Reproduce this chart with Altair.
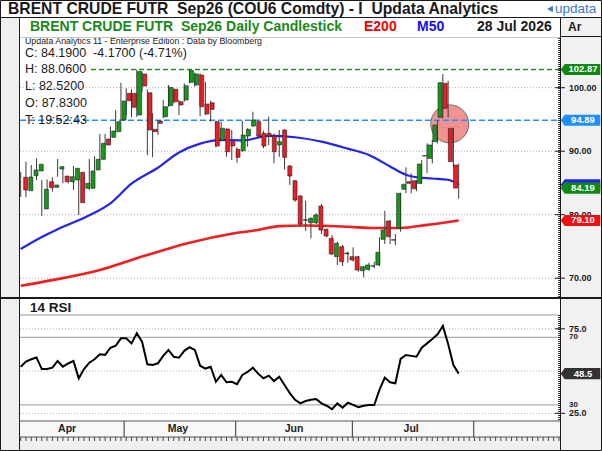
import altair as alt
import pandas as pd

# ---------------- data ----------------
day_index = list(range(84))
opens = [85.89, 83.78, 86.14, 86.88, 80.90, 85.20, 84.31, 87.20, 86.09, 85.20,
         85.46, 86.68, 84.16, 84.16, 87.04, 88.72, 91.92, 92.19, 93.07, 94.91,
         99.12, 99.12, 95.70, 102.16, 99.21, 93.45, 94.76, 95.43, 97.17, 99.75,
         97.79, 98.06, 100.85, 100.43, 102.00, 97.43, 97.64, 94.65, 91.76, 93.50,
         91.50, 90.30, 90.08, 92.39, 93.97, 94.65, 92.82, 92.82, 92.39, 90.98,
         93.34, 87.67, 85.35, 82.95, 79.20, 78.74, 78.74, 81.37, 77.70, 76.28,
         73.39, 74.96, 73.85, 73.39, 73.39, 71.18, 71.40, 71.95, 72.08, 76.12,
         79.01, 76.05, 77.86, 84.00, 85.20, 85.35, 84.94, 89.25, 88.88, 91.50,
         95.34, 100.69, 93.61, 87.83]
highs = [86.72, 88.35, 87.83, 88.88, 85.46, 85.57, 85.89, 88.77, 87.67, 86.09,
         87.67, 86.72, 86.09, 88.77, 89.24, 92.71, 92.71, 93.86, 96.49, 100.79,
         99.90, 99.75, 102.87, 102.52, 99.75, 95.97, 94.90, 98.06, 100.43, 99.90,
         98.06, 100.69, 102.87, 102.36, 102.27, 100.94, 97.95, 94.80, 94.65, 93.60,
         93.34, 90.61, 94.80, 93.61, 96.22, 94.80, 93.23, 95.43, 92.82, 93.34,
         93.45, 87.83, 85.46, 83.05, 82.20, 79.59, 80.22, 81.68, 77.80, 76.80,
         75.75, 75.23, 74.17, 74.87, 73.50, 71.92, 72.44, 72.60, 76.44, 80.63,
         79.16, 76.96, 83.47, 87.46, 86.52, 85.46, 88.61, 91.24, 91.76, 94.91,
         102.16, 101.10, 93.70, 88.06]
lows = [82.79, 82.74, 84.16, 85.46, 79.80, 83.62, 83.62, 85.98, 84.94, 84.94,
        83.89, 79.95, 83.78, 83.89, 86.25, 88.61, 90.82, 91.76, 92.91, 94.76,
        95.70, 95.34, 95.39, 99.37, 89.40, 89.04, 92.55, 95.20, 97.00, 97.54,
        95.70, 97.79, 100.69, 100.16, 95.54, 95.70, 94.65, 90.61, 91.50, 89.13,
        88.61, 88.19, 89.92, 90.71, 93.86, 92.28, 90.46, 90.98, 88.09, 89.13,
        87.12, 84.68, 82.05, 78.22, 77.48, 76.28, 78.54, 76.96, 76.44, 73.65,
        72.08, 71.92, 72.44, 72.60, 71.02, 70.14, 71.18, 71.56, 71.92, 75.39,
        75.39, 75.24, 77.32, 83.37, 83.37, 83.73, 84.83, 86.52, 88.09, 91.24,
        95.18, 95.34, 87.56, 82.52]
closes = [83.89, 85.94, 87.04, 87.94, 84.00, 84.25, 84.68, 87.56, 85.20, 85.98,
          87.31, 81.89, 84.94, 86.88, 88.72, 91.24, 90.98, 93.18, 94.65, 97.90,
          97.95, 96.91, 102.55, 100.27, 93.34, 93.07, 94.39, 97.01, 100.06, 97.79,
          97.28, 100.31, 102.70, 102.16, 97.01, 95.86, 96.60, 90.82, 93.61, 89.92,
          90.82, 89.04, 92.55, 93.45, 94.91, 92.39, 90.82, 92.39, 89.92, 91.50,
          89.04, 86.09, 82.31, 78.54, 79.14, 79.43, 79.95, 77.59, 76.65, 73.81,
          75.50, 72.60, 73.95, 72.87, 71.29, 71.81, 72.08, 71.90, 74.08, 77.59,
          76.54, 76.00, 83.37, 84.79, 84.94, 84.09, 87.98, 89.30, 90.98, 94.13,
          100.79, 96.75, 88.36, 84.19]
rsi = [52.6, 55.6, 57.0, 58.0, 51.2, 51.2, 52.0, 56.0, 52.6, 54.5,
       56.0, 45.7, 51.2, 55.0, 57.0, 59.9, 59.6, 63.8, 65.0, 69.4,
       69.4, 66.4, 72.4, 67.4, 54.0, 53.6, 54.6, 59.0, 62.5, 58.5,
       57.9, 62.0, 64.1, 62.5, 53.2, 51.5, 52.6, 43.7, 47.7, 43.4,
       43.7, 42.2, 47.7, 49.5, 52.0, 48.5, 45.7, 47.3, 44.1, 46.7,
       41.8, 37.0, 33.0, 30.9, 32.3, 33.0, 33.5, 30.9, 29.5, 27.4,
       30.9, 28.3, 31.3, 30.0, 28.6, 29.5, 29.9, 29.9, 39.0, 46.1,
       43.4, 42.8, 57.2, 59.5, 59.0, 58.5, 63.8, 66.4, 69.0, 71.8,
       76.7, 66.0, 53.6, 48.5]

m50_k = [0, 4, 7, 13, 17, 21, 26, 30, 34, 38, 42, 47, 52, 57, 62, 66, 70, 73, 75, 78, 81, 83]
m50_v = [74.6, 76.5, 77.7, 79.9, 81.8, 84.9, 87.4, 89.8, 91.2, 91.8, 91.7, 92.4, 92.2,
         91.5, 90.4, 89.4, 87.6, 86.3, 85.9, 85.7, 85.5, 84.7]
e200_k = [0, 6, 15, 23, 32, 40, 45, 49, 54, 62, 67, 72, 77, 83]
e200_v = [68.8, 69.7, 71.3, 73.4, 75.6, 77.0, 77.6, 78.2, 78.3, 78.1, 77.9, 77.9, 78.4, 79.1]

high_level = 102.87
last_level = 94.89
circle_k = [81.3]
circle_v = [94.3]

price_ticks = [100, 90, 80, 70]
price_tick_labels = ["100.00", "90.00", "80.00", "70.00"]
rsi_solid = [83.2, 70, 30]
rsi_dotted = [75, 50, 25]
rsi_major_values = [75, 25]
rsi_major_labels = ["75.0", "25.0"]
rsi_minor_values = [70, 30]
rsi_minor_labels = ["70", "30"]
month_names = ["Apr", "May", "Jun", "Jul"]
month_centers = [8.8, 29.8, 51.8, 74.0]
month_bounds = [19.6, 40.75, 62.85, 85.85]
tick_days = list(range(0, 103))

# ---------------- styling ----------------
FONT = "Liberation Sans"
DARK = "#1a1a1a"
GREEN = "#139a1b"
RED = "#ee1c24"
BLUE_MA = "#2424e8"
RED_MA = "#f01e1e"
TAG_GREEN = "#0e8a14"
TAG_BLUE = "#1e8fff"
TAG_RED = "#f01010"

XS = alt.Scale(domain=[-0.13, 102.2], range=[20, 560], nice=False, zero=False)
PS = alt.Scale(domain=[67.04, 107.83], range=[297, 38], nice=False, zero=False)
RS = alt.Scale(domain=[20.47, 93.25], range=[421, 298], nice=False, zero=False)

one = pd.DataFrame({"d": [0]})


def rect(x, x2, y, y2, fill, stroke=None, sw=1):
    kw = {"fill": fill}
    if stroke is not None:
        kw.update(stroke=stroke, strokeWidth=sw)
    else:
        kw.update(strokeWidth=0)
    return alt.Chart(one).mark_rect(**kw).encode(
        x=alt.value(x), x2=alt.value(x2), y=alt.value(y), y2=alt.value(y2))


def hrule(x, x2, y, color, sw=1, dash=None):
    kw = dict(color=color, strokeWidth=sw)
    if dash:
        kw["strokeDash"] = dash
    return alt.Chart(one).mark_rule(**kw).encode(
        x=alt.value(x), x2=alt.value(x2), y=alt.value(y))


def vrule(x, y, y2, color, sw=1, dash=None):
    kw = dict(color=color, strokeWidth=sw)
    if dash:
        kw["strokeDash"] = dash
    return alt.Chart(one).mark_rule(**kw).encode(
        x=alt.value(x), y=alt.value(y), y2=alt.value(y2))


def levels(values, scale, x, x2, color, sw=1, dash=None):
    kw = dict(color=color, strokeWidth=sw)
    if dash:
        kw["strokeDash"] = dash
    d = pd.DataFrame({"v": values})
    return alt.Chart(d).mark_rule(**kw).encode(
        y=alt.Y("v:Q", scale=scale, axis=None), x=alt.value(x), x2=alt.value(x2))


def label(s, x, y, size, color=DARK, weight="normal", align="left"):
    return alt.Chart(pd.DataFrame({"t": [s]})).mark_text(
        align=align, baseline="middle", fontSize=size, fontWeight=weight,
        color=color, font=FONT).encode(x=alt.value(x), y=alt.value(y), text="t:N")


def axis_labels(values, texts, scale, x, size=9, dy=0):
    d = pd.DataFrame({"v": values, "t": texts})
    return alt.Chart(d).mark_text(
        align="left", baseline="middle", fontSize=size, fontWeight="bold",
        color=DARK, font=FONT, dy=dy).encode(
        x=alt.value(x), y=alt.Y("v:Q", scale=scale, axis=None), text="t:N")


TAG = "M-1,0L-0.8,-0.28L1,-0.28L1,0.28L-0.8,0.28Z"


def tag(value, text, color, scale, with_text=True):
    d = pd.DataFrame({"v": [value], "t": [text]})
    y = alt.Y("v:Q", scale=scale, axis=None)
    out = [alt.Chart(d).mark_point(shape=TAG, size=1560, filled=True, color=color,
                                   opacity=1, strokeWidth=0).encode(x=alt.value(580.5), y=y)]
    if with_text:
        out.append(alt.Chart(d).mark_text(
            align="center", baseline="middle", fontSize=9.5, fontWeight="bold",
            color="white", font=FONT).encode(x=alt.value(583), y=y, text="t:N"))
    return out


layers = []
# backgrounds
layers.append(rect(0, 602, 0, 451, "white"))
layers.append(rect(0, 19, 17, 451, "#efefef"))
layers.append(rect(560, 602, 17, 451, "#f1f1f1"))
layers.append(rect(19, 560, 421, 437, "#f8f8f8"))
layers.append(rect(19, 560, 437, 451, "#efefef"))

# price grid
layers.append(levels(price_ticks, PS, 20, 558, "#b0b0b0", 1, [1, 2]))
# rsi guide lines
layers.append(levels(rsi_solid, RS, 20, 558, "#9a9a9a", 1))
layers.append(levels(rsi_dotted, RS, 20, 558, "#b0b0b0", 1, [1, 2]))

# moving averages
layers.append(alt.Chart(pd.DataFrame({"k": e200_k, "v": e200_v})).mark_line(
    color=RED_MA, strokeWidth=2.6, interpolate="monotone").encode(
    x=alt.X("k:Q", scale=XS, axis=None), y=alt.Y("v:Q", scale=PS, axis=None)))
layers.append(alt.Chart(pd.DataFrame({"k": m50_k, "v": m50_v})).mark_line(
    color=BLUE_MA, strokeWidth=2.2, interpolate="monotone").encode(
    x=alt.X("k:Q", scale=XS, axis=None), y=alt.Y("v:Q", scale=PS, axis=None)))

# highlight circle
layers.append(alt.Chart(pd.DataFrame({"k": circle_k, "v": circle_v})).mark_circle(
    size=1444, color="#f27f7f", opacity=0.85, stroke="#555555", strokeWidth=1).encode(
    x=alt.X("k:Q", scale=XS, axis=None), y=alt.Y("v:Q", scale=PS, axis=None)))

# dashed levels
layers.append(levels([high_level], PS, 91, 560, "#1f8f1f", 1.5, [5, 3]))
layers.append(levels([last_level], PS, 20, 560, "#1e8fff", 1.5, [6, 3]))

# candles
cdf = pd.DataFrame({"k": day_index, "open": opens, "high": highs, "low": lows, "close": closes})
cdf["dir"] = ["flat" if abs(c - o) < 0.15 else ("up" if c > o else "down")
              for o, c in zip(opens, closes)]
layers.append(alt.Chart(cdf).mark_rule(color="#3a3a3a", strokeWidth=1).encode(
    x=alt.X("k:Q", scale=XS, axis=None), y=alt.Y("low:Q", scale=PS, axis=None), y2="high:Q"))
layers.append(alt.Chart(cdf).mark_bar(size=4, stroke="#1e1e1e", strokeWidth=0.6).encode(
    x=alt.X("k:Q", scale=XS, axis=None), y=alt.Y("open:Q", scale=PS, axis=None), y2="close:Q",
    color=alt.Color("dir:N", scale=alt.Scale(domain=["up", "down", "flat"],
                                             range=[GREEN, RED, "#111111"]), legend=None)))

# RSI line
layers.append(alt.Chart(pd.DataFrame({"k": day_index, "r": rsi})).mark_line(
    color="black", strokeWidth=2).encode(
    x=alt.X("k:Q", scale=XS, axis=None), y=alt.Y("r:Q", scale=RS, axis=None)))

# header texts
layers.append(label("BRENT CRUDE FUTR\u00a0 Sep26 (COU6 Comdty) - I\u00a0 Updata Analytics",
                    8, 9, 15.7, DARK, "bold"))
layers.append(alt.Chart(one).mark_point(shape="triangle-left", size=45, filled=True,
                                        color="#3b78d0", opacity=1).encode(
    x=alt.value(550), y=alt.value(9)))
layers.append(label("updata", 555, 9, 13.5, "#3b78d0"))
layers.append(label("BRENT CRUDE FUTR\u00a0 Sep26 Daily Candlestick", 30, 26.5, 14, "#1a8a1a", "bold"))
layers.append(label("E200", 364, 26.5, 14, "#f00000", "bold"))
layers.append(label("M50", 417, 26.5, 14, "#1010ee", "bold"))
layers.append(label("28 Jul 2026", 477, 26.5, 14, DARK, "bold"))
layers.append(label("Ar", 568, 26.5, 12, DARK, "bold"))
layers.append(label("Updata Analytics 11 - Enterprise Edition : Data by Bloomberg", 25, 40.5, 8.8))
layers.append(label("C: 84.1900\u00a0 -4.1700 (-4.71%)", 25, 53, 12.5))
layers.append(label("H: 88.0600", 25, 69, 12.5))
layers.append(label("L: 82.5200", 25, 86, 12.5))
layers.append(label("O: 87.8300", 25, 102.5, 12.5))
layers.append(label("T: 19:52:43", 25, 119.5, 12.5))
layers.append(label("14 RSI", 30, 308, 13.5, DARK, "bold"))

# axis rulers and ticks
layers.append(vrule(559, 38, 297, "#333333", 2, [1, 1]))
layers.append(vrule(559, 315, 421, "#333333", 2, [1, 1]))
layers.append(levels(price_ticks, PS, 555, 565, DARK))
layers.append(levels(rsi_major_values, RS, 555, 565, DARK))
layers.append(axis_labels(price_ticks, price_tick_labels, PS, 569))
layers.append(axis_labels(rsi_major_values, rsi_major_labels, RS, 569))
layers.append(axis_labels(rsi_minor_values, rsi_minor_labels, RS, 569, size=8, dy=0))

# value tags
layers += tag(high_level, "102.87", TAG_GREEN, PS)
layers += tag(last_level, "94.89", TAG_BLUE, PS)
layers += tag(m50_v[-1], "", BLUE_MA, PS, with_text=False)
layers += tag(closes[-1], "84.19", TAG_GREEN, PS)
layers += tag(e200_v[-1], "79.10", TAG_RED, PS)
layers += tag(rsi[-1], "48.5", "#333333", RS)

# month band
layers.append(alt.Chart(pd.DataFrame({"k": month_bounds})).mark_rule(color="#333333").encode(
    x=alt.X("k:Q", scale=XS, axis=None), y=alt.value(421), y2=alt.value(437)))
layers.append(alt.Chart(pd.DataFrame({"k": month_centers, "m": month_names})).mark_text(
    align="center", baseline="middle", fontSize=10.5, fontWeight="bold", color="#222222",
    font=FONT).encode(x=alt.X("k:Q", scale=XS, axis=None), y=alt.value(429), text="m:N"))
layers.append(alt.Chart(pd.DataFrame({"k": tick_days})).mark_rule(color="#444444").encode(
    x=alt.X("k:Q", scale=XS, axis=None), y=alt.value(437), y2=alt.value(441)))

# frame lines
layers.append(hrule(0, 602, 17.5, DARK))
layers.append(hrule(560, 602, 36.5, DARK))
layers.append(hrule(19, 560, 37.5, "#c8c8c8"))
layers.append(vrule(19.5, 17, 451, DARK))
layers.append(vrule(560.5, 17, 451, DARK))
layers.append(hrule(0, 602, 298, DARK, 2))
layers.append(hrule(19, 560, 421, "#555555"))
layers.append(hrule(19, 560, 437, "#555555"))
layers.append(rect(0.5, 601.5, 0.5, 450.5, "none", DARK, 1))

chart = alt.layer(*layers).resolve_scale(x="independent", y="independent").properties(
    width=602, height=451, padding=0,
    autosize=alt.AutoSizeParams(type="none"), background="white"
).configure_view(stroke=None)

chart.save("out.html", embed_options={"renderer": "svg", "actions": False})
